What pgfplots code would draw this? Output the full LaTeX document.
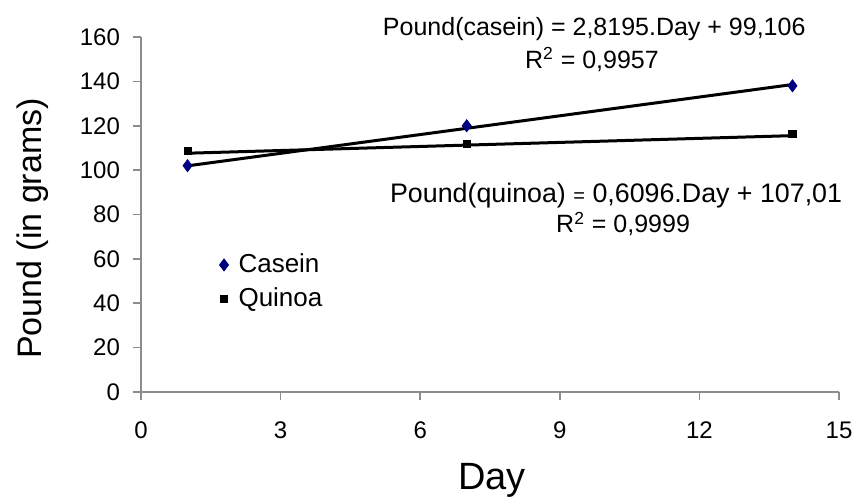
\documentclass[border=0pt]{standalone}
\usepackage{fontspec}
\setmainfont{Liberation Sans}
\usepackage{pgfplots}
\pgfplotsset{compat=1.18}

\definecolor{caseinblue}{HTML}{00007F}
\definecolor{axisgray}{HTML}{8C8C8C}

\begin{document}
\begin{tikzpicture}
	% fixed page: 855 x 499 px at 0.5pt per px, axis box at (141,392) px
	\useasboundingbox (-70.5pt,-53.5pt) rectangle (357pt,196pt);
	\begin{axis}[
		at={(0,0)},
		anchor=south west,
		scale only axis,
		width=349pt,
		height=177.5pt,
		xmin=0, xmax=15,
		ymin=0, ymax=160,
		xtick={0,3,...,15},
		ytick={0,20,...,160},
		axis x line*=bottom,
		axis y line*=left,
		axis line style={axisgray, line width=0.8pt, -},
		tick style={axisgray, line width=0.8pt},
		tick align=outside,
		major tick length=4pt,
		/pgf/number format/assume math mode=true,
		tick label style={font=\fontsize{12}{14}\selectfont, black},
		yticklabel style={xshift=-3pt},
		xticklabel style={yshift=-7.5pt},
		xlabel={Day},
		ylabel={Pound (in grams)},
		xlabel style={font=\fontsize{19}{22}\selectfont, at={(axis description cs:0.503,-0.276)}, anchor=base},
		ylabel style={font=\fontsize{17}{20}\selectfont, at={(axis description cs:-0.155,0.4606)}, anchor=center},
		clip=false,
		legend style={draw=none, fill=none, at={(axis cs:1.55,66)}, anchor=north west,
			font=\fontsize{13}{15}\selectfont, row sep=2pt,
			/tikz/every even column/.append style={column sep=1pt},
			/tikz/every odd column/.append style={column sep=3pt}},
		legend cell align=left,
		]
		% trendlines
		\addplot[black, line width=1.5pt, forget plot] coordinates {(1,101.93) (14,138.58)};
		\addplot[black, line width=1.5pt, forget plot] coordinates {(1,107.62) (14,115.54)};
		% data
		\addplot[only marks, mark=diamond*, mark size=3pt, caseinblue] coordinates {
			(1,102) (7,120) (14,138)
		};
		\addlegendentry{Casein}
		\addplot[only marks, mark=square*, mark size=1.8pt, black] coordinates {
			(1,108.5) (7,111.8) (14,116.5)
		};
		\addlegendentry{Quinoa}
		% equations
		\node[anchor=base, font=\fontsize{12.5}{14}\selectfont] at (axis cs:9.74,160.9)
			{Pound(casein) = 2,8195.Day + 99,106};
		\node[anchor=base, font=\fontsize{12.5}{14}\selectfont] at (axis cs:9.69,146.0)
			{R\textsuperscript{2} = 0,9957};
		\node[anchor=base, font=\fontsize{13.4}{15}\selectfont] at (axis cs:10.21,85.2)
			{Pound(quinoa) {\fontsize{10}{12}\selectfont =} 0,6096.Day + 107,01};
		\node[anchor=base, font=\fontsize{12.5}{14}\selectfont] at (axis cs:10.36,71.7)
			{R\textsuperscript{2} = 0,9999};
	\end{axis}
\end{tikzpicture}
\end{document}
